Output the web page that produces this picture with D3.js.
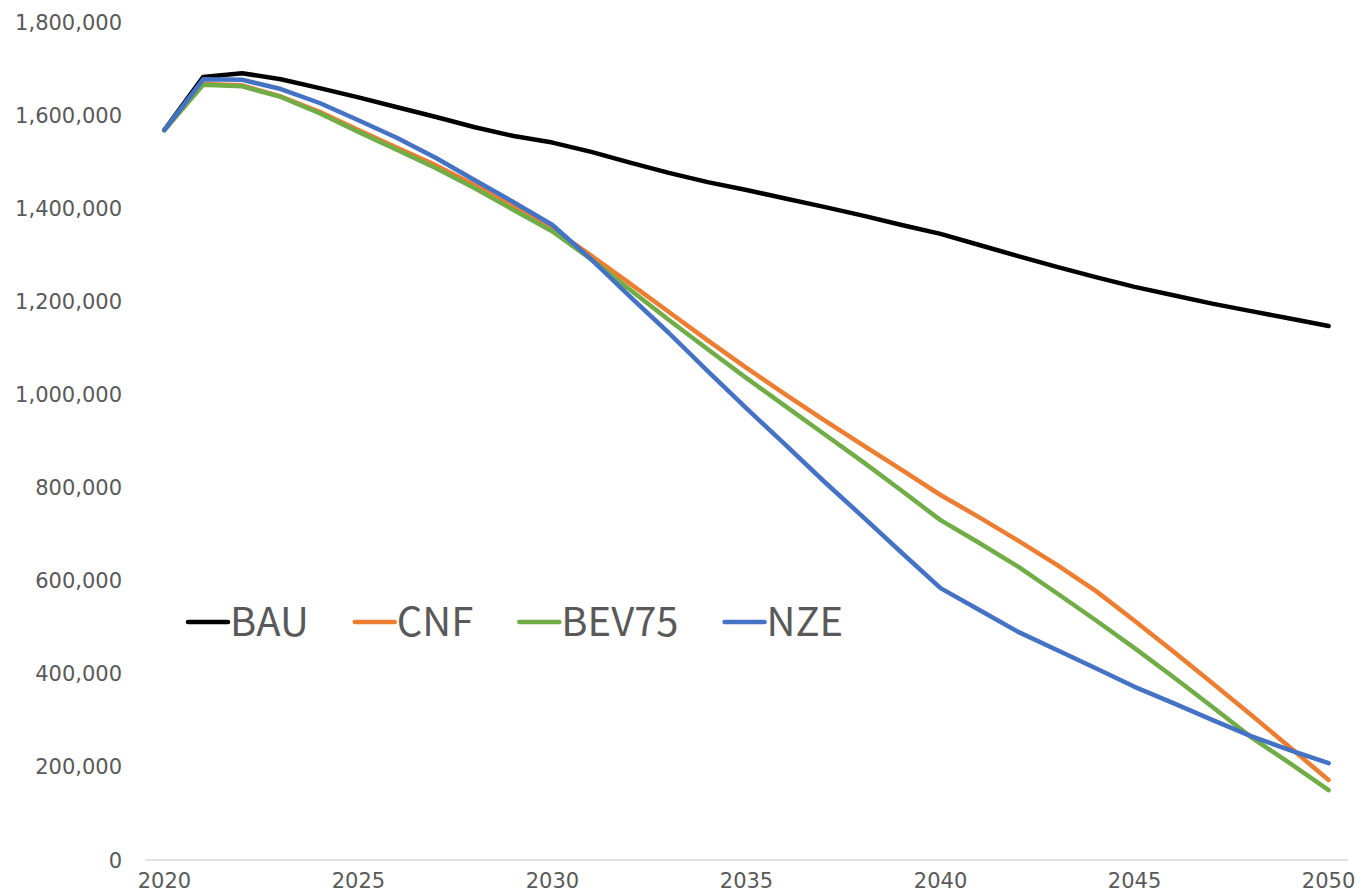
<!DOCTYPE html>
<html>
<head>
<meta charset="utf-8">
<script src="https://cdn.jsdelivr.net/npm/d3@7"></script>
<style>
  html, body { margin: 0; padding: 0; background: #ffffff; }
  svg { display: block; }
</style>
</head>
<body>
<svg id="chart" width="1362" height="893"></svg>
<script>
// Years on the category axis
const years = [2020, 2021, 2022, 2023, 2024, 2025, 2026, 2027, 2028, 2029, 2030,
               2031, 2032, 2033, 2034, 2035, 2036, 2037, 2038, 2039, 2040,
               2041, 2042, 2043, 2044, 2045, 2046, 2047, 2048, 2049, 2050];

// Scenario series
const bau = [1568000, 1682000, 1690000, 1677000, 1658000, 1638000, 1617000, 1596000, 1574000, 1555000, 1541000,
             1521000, 1498000, 1476000, 1456000, 1439000, 1421000, 1403000, 1384000, 1364000, 1345000,
             1321000, 1297000, 1274000, 1252000, 1231000, 1213000, 1195000, 1179000, 1163000, 1147000];
const cnf = [1568000, 1667000, 1664000, 1640000, 1607000, 1568000, 1530000, 1492000, 1450000, 1403000, 1356000,
             1298000, 1238000, 1177000, 1116000, 1057000, 1000000, 945000, 891000, 838000, 784000,
             736000, 686000, 634000, 578000, 514000, 448000, 380000, 312000, 242000, 172000];
const bev75 = [1568000, 1665000, 1662000, 1639000, 1604000, 1564000, 1525000, 1486000, 1443000, 1396000, 1350000,
               1290000, 1225000, 1160000, 1097000, 1035000, 975000, 915000, 855000, 793000, 730000,
               681000, 630000, 573000, 515000, 455000, 393000, 329000, 264000, 208000, 150000];
const nze = [1568000, 1677000, 1676000, 1656000, 1626000, 1589000, 1551000, 1508000, 1460000, 1413000, 1364000,
             1290000, 1210000, 1132000, 1050000, 970000, 892000, 813000, 737000, 660000, 584000,
             537000, 490000, 451000, 412000, 372000, 337000, 301000, 266000, 236000, 208000];

const seriesNames = ["BAU", "CNF", "BEV75", "NZE"];
const seriesColors = ["#000000", "#ED7D31", "#70AD47", "#4472C4"];

// Axis ticks
const yTicks = [0, 200000, 400000, 600000, 800000, 1000000, 1200000, 1400000, 1600000, 1800000];
const xTickYears = [2020, 2025, 2030, 2035, 2040, 2045, 2050];

const series = [bau, cnf, bev75, nze].map((vals, i) => ({
  name: seriesNames[i],
  color: seriesColors[i],
  values: vals.map((v, j) => ({ year: years[j], value: v }))
}));

const svg = d3.select("#chart");
const labelFont = "'DejaVu Sans', sans-serif";
const legendFont = "'Noto Sans CJK KR', 'Noto Sans', sans-serif";
const textColor = "#595959";

const x = d3.scalePoint().domain(years).range([145, 1348]).padding(0.5);
const y = d3.scaleLinear().domain([0, 1800000]).range([860, 22]);

// Baseline
svg.append("line")
  .attr("x1", 145).attr("x2", 1348)
  .attr("y1", y(0)).attr("y2", y(0))
  .attr("stroke", "#d9d9d9").attr("stroke-width", 1.5);

// Y axis labels
const fmt = d3.format(",");
svg.append("g").selectAll("text")
  .data(yTicks).join("text")
  .attr("x", 122)
  .attr("y", d => y(d))
  .attr("dy", "0.36em")
  .attr("text-anchor", "end")
  .attr("font-family", labelFont)
  .attr("font-size", 21)
  .attr("fill", textColor)
  .text(d => fmt(d));

// X axis labels
svg.append("g").selectAll("text")
  .data(xTickYears).join("text")
  .attr("x", d => x(d))
  .attr("y", 888)
  .attr("text-anchor", "middle")
  .attr("font-family", labelFont)
  .attr("font-size", 21)
  .attr("fill", textColor)
  .text(d => d);

// Series lines
const line = d3.line().x(d => x(d.year)).y(d => y(d.value));
svg.append("g").selectAll("path")
  .data(series).join("path")
  .attr("d", d => line(d.values))
  .attr("fill", "none")
  .attr("stroke", d => d.color)
  .attr("stroke-width", 4.5)
  .attr("stroke-linejoin", "round")
  .attr("stroke-linecap", "round");

// Legend
const legend = svg.append("g");
let lx = 188;
const ly = 622;
series.forEach(s => {
  legend.append("line")
    .attr("x1", lx).attr("x2", lx + 40)
    .attr("y1", ly).attr("y2", ly)
    .attr("stroke", s.color).attr("stroke-width", 4.5)
    .attr("stroke-linecap", "round");
  const t = legend.append("text")
    .attr("x", lx + 42)
    .attr("y", ly + 14)
    .attr("font-family", legendFont)
    .attr("font-size", 40)
    .attr("fill", textColor)
    .text(s.name);
  lx += 42 + t.node().getComputedTextLength() + 46;
});
</script>
</body>
</html>
